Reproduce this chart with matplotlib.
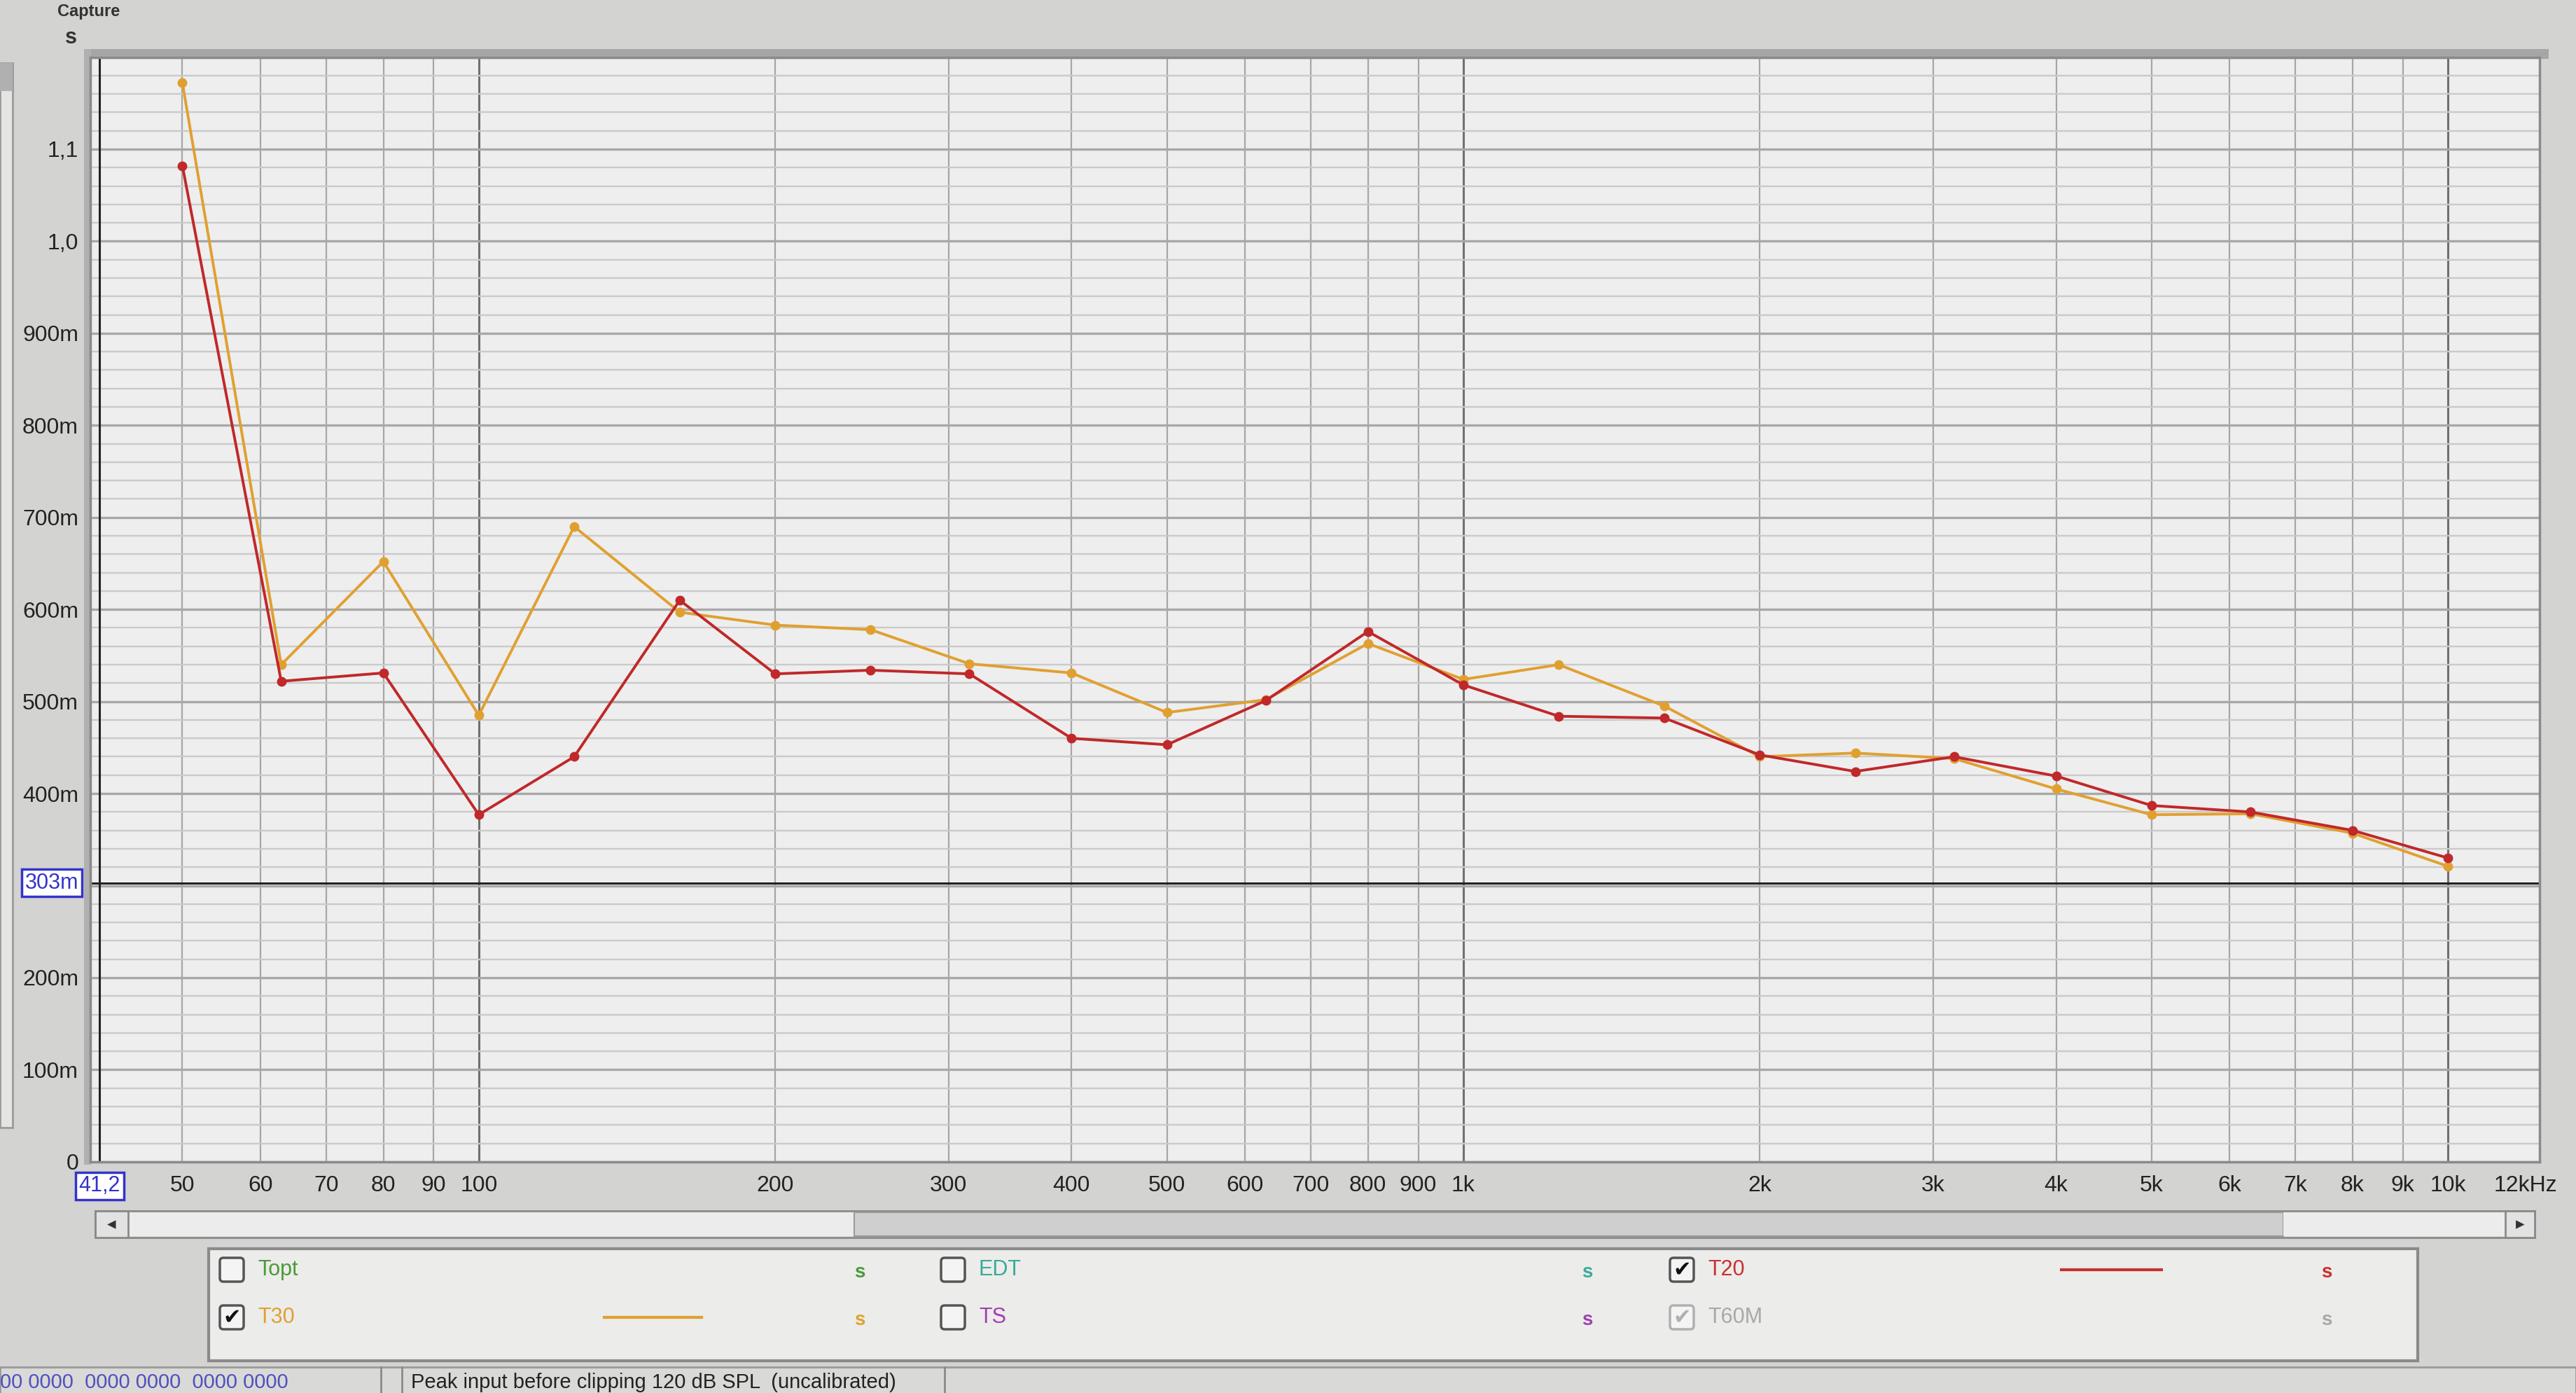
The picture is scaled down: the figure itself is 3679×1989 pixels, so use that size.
import matplotlib
matplotlib.use("Agg")
import matplotlib.pyplot as plt
from matplotlib.patches import Rectangle, FancyBboxPatch
from matplotlib.ticker import FixedLocator, NullFormatter

plt.rcParams['font.family'] = ['Liberation Sans', 'DejaVu Sans']

# 1/3 octave band centres (Hz) and decay times (s)
freqs = [50, 63, 80, 100, 125, 160, 200, 250, 315, 400, 500, 630,
         800, 1000, 1250, 1600, 2000, 2500, 3150, 4000, 5000, 6300, 8000, 10000]
t30 = [1.172, 0.540, 0.652, 0.485, 0.690, 0.597, 0.583, 0.578, 0.541, 0.531, 0.488, 0.502,
       0.563, 0.524, 0.540, 0.495, 0.440, 0.444, 0.438, 0.405, 0.377, 0.378, 0.357, 0.321]
t20 = [1.082, 0.522, 0.531, 0.377, 0.440, 0.610, 0.530, 0.534, 0.530, 0.460, 0.453, 0.501,
       0.576, 0.518, 0.484, 0.482, 0.442, 0.424, 0.440, 0.419, 0.387, 0.380, 0.360, 0.330]

x_ticks = [50, 60, 70, 80, 90, 100, 200, 300, 400, 500, 600, 700, 800, 900,
           1000, 2000, 3000, 4000, 5000, 6000, 7000, 8000, 9000, 10000, 12000]
x_labels = ['50', '60', '70', '80', '90', '100', '200', '300', '400', '500', '600', '700',
            '800', '900', '1k', '2k', '3k', '4k', '5k', '6k', '7k', '8k', '9k', '10k', '12kHz']
y_ticks = [0, 0.1, 0.2, 0.4, 0.5, 0.6, 0.7, 0.8, 0.9, 1.0, 1.1]
y_labels = ['0', '100m', '200m', '400m', '500m', '600m', '700m', '800m', '900m', '1,0', '1,1']

cursor_f = 41.2
cursor_t = 0.303

W, H = 3679, 1989
fig = plt.figure(figsize=(W / 100, H / 100), dpi=100)
fig.patch.set_facecolor('#d3d3d1')

# UI chrome in pixel coordinates
ui = fig.add_axes([0, 0, 1, 1], zorder=0)
ui.set_xlim(0, W)
ui.set_ylim(H, 0)
ui.axis('off')

ui.text(82, 16, 'Capture', fontsize=17, color='#333333', va='center', fontweight='bold')
ui.text(101, 54, 's', fontsize=22, color='#333333', ha='center', va='center', fontweight='bold')
# left side strip
ui.add_patch(Rectangle((0, 90), 18, 1520, fc='#e4e4e2', ec='#9a9a9a', lw=2))
ui.add_patch(Rectangle((0, 90), 18, 40, fc='#b0b0b0', ec='none'))
# soft bevel round the plot
ui.add_patch(Rectangle((120, 70), 3520, 14, fc='#a6a6a6', ec='none'))
ui.add_patch(Rectangle((120, 70), 10, 1593, fc='#b0b0b0', ec='none'))

# scrollbar
ui.add_patch(Rectangle((136, 1729), 3484, 38, fc='#dedede', ec='#8a8a8a', lw=2))
ui.add_patch(Rectangle((183, 1731), 1037, 34, fc='#ececec', ec='none'))
ui.add_patch(Rectangle((1220, 1731), 2041, 34, fc='#cfcfcf', ec='#9a9a9a', lw=1.5))
ui.add_patch(Rectangle((3261, 1731), 317, 34, fc='#ececec', ec='none'))
ui.add_patch(Rectangle((136, 1729), 47, 38, fc='#e2e2e2', ec='#8a8a8a', lw=2))
ui.add_patch(Rectangle((3578, 1729), 42, 38, fc='#e2e2e2', ec='#8a8a8a', lw=2))
ui.text(159, 1748, '\u25c2', fontsize=18, ha='center', va='center', color='#333333',
        family=['DejaVu Sans'])
ui.text(3599, 1748, '\u25b8', fontsize=18, ha='center', va='center', color='#333333',
        family=['DejaVu Sans'])

# legend panel
ui.add_patch(Rectangle((298, 1783), 3155, 160, fc='#ececea', ec='#8a8a8a', lw=3))

legend_rows = [
    # (checkbox x, text, colour, state, row y, sample line, unit x)
    (331, 'Topt', '#4a9a3a', 'off', 1813, None, 1220),
    (331, 'T30', '#e0a030', 'on', 1881, (863, 1002), 1220),
    (1361, 'EDT', '#3aaa9a', 'off', 1813, None, 2259),
    (1361, 'TS', '#a040b0', 'off', 1881, None, 2259),
    (2402, 'T20', '#c83030', 'on', 1813, (2944, 3087), 3315),
    (2402, 'T60M', '#a8a8a8', 'grey', 1881, None, 3315),
]
for cx, name, col, state, ry, sample, ux in legend_rows:
    ec = '#b0b0b0' if state == 'grey' else '#555555'
    ui.add_patch(FancyBboxPatch((cx - 17, ry - 17), 34, 34, boxstyle='round,pad=0,rounding_size=5',
                                fc='#f4f4f4', ec=ec, lw=2.5))
    if state != 'off':
        ui.text(cx, ry, '\u2714', fontsize=22, ha='center', va='center',
                color='#111111' if state == 'on' else '#b0b0b0', family=['DejaVu Sans'])
    ui.text(cx + 37, ry, name, fontsize=22, color=col, va='center')
    if sample is not None:
        ui.plot(sample, [ry, ry], color=col, lw=3)
    ui.text(ux, ry + 4, 's', fontsize=20, color=col, va='center', fontweight='bold')

# status bar
ui.add_patch(Rectangle((0, 1952), W, 40, fc='#d9d9d7', ec='#9a9a9a', lw=2))
ui.plot([544, 544], [1952, H], color='#8a8a8a', lw=2)
ui.plot([574, 574], [1952, H], color='#8a8a8a', lw=2)
ui.plot([1349, 1349], [1952, H], color='#8a8a8a', lw=2)
ui.text(0, 1974, '00 0000  0000 0000  0000 0000', fontsize=21, color='#5050c0', va='center')
ui.text(587, 1974, 'Peak input before clipping 120 dB SPL  (uncalibrated)', fontsize=21,
        color='#222222', va='center')

# main plot
ax = fig.add_axes([0.035, 0.166, 0.951, 0.793], zorder=1)
ax.set_facecolor('#eeeeee')
ax.set_xscale('log')
ax.set_xlim(40.3, 12400)
ax.set_ylim(0, 1.2)

# grid
for f in x_ticks[:-1]:
    major = f in (100, 1000, 10000)
    ax.axvline(f, color='#707070' if major else '#a6a6a6', lw=2.2 if major else 1.6, zorder=1)
for i in range(61):
    v = i * 0.02
    major = i % 5 == 0
    ax.axhline(v, color='#a8a8a8' if major else '#cacaca', lw=2.4 if major else 1.7, zorder=1)

# cursors
ax.axvline(cursor_f, color='#222222', lw=2.2, zorder=2)
ax.axhline(cursor_t, color='#222222', lw=2.2, zorder=2)

ax.plot(freqs, t30, color='#e0a030', lw=2.8, marker='o', ms=9, zorder=3)
ax.plot(freqs, t20, color='#c0282a', lw=2.8, marker='o', ms=9, zorder=4)

ax.xaxis.set_major_locator(FixedLocator(x_ticks))
ax.set_xticklabels(x_labels)
ax.xaxis.set_minor_formatter(NullFormatter())
ax.xaxis.set_minor_locator(FixedLocator([]))
ax.set_yticks(y_ticks)
ax.set_yticklabels(y_labels)
ax.tick_params(axis='both', length=0, labelsize=23, colors='#222222')
ax.tick_params(axis='x', pad=14)
ax.tick_params(axis='y', pad=12)
for s in ax.spines.values():
    s.set_color('#8a8a8a')
    s.set_linewidth(2.5)

# cursor value boxes
box = dict(boxstyle='square,pad=0.15', fc='white', ec='#3333cc', lw=2.5)
ax.annotate('303m', xy=(0, cursor_t), xycoords=('axes fraction', 'data'), xytext=(-12, 0),
            textcoords='offset points', ha='right', va='center', fontsize=22,
            color='#3333cc', bbox=box)
ax.annotate('41,2', xy=(cursor_f, 0), xycoords=('data', 'axes fraction'), xytext=(0, -14),
            textcoords='offset points', ha='center', va='top', fontsize=22,
            color='#3333cc', bbox=box)

fig.savefig('out.png', dpi=100, facecolor=fig.get_facecolor())
